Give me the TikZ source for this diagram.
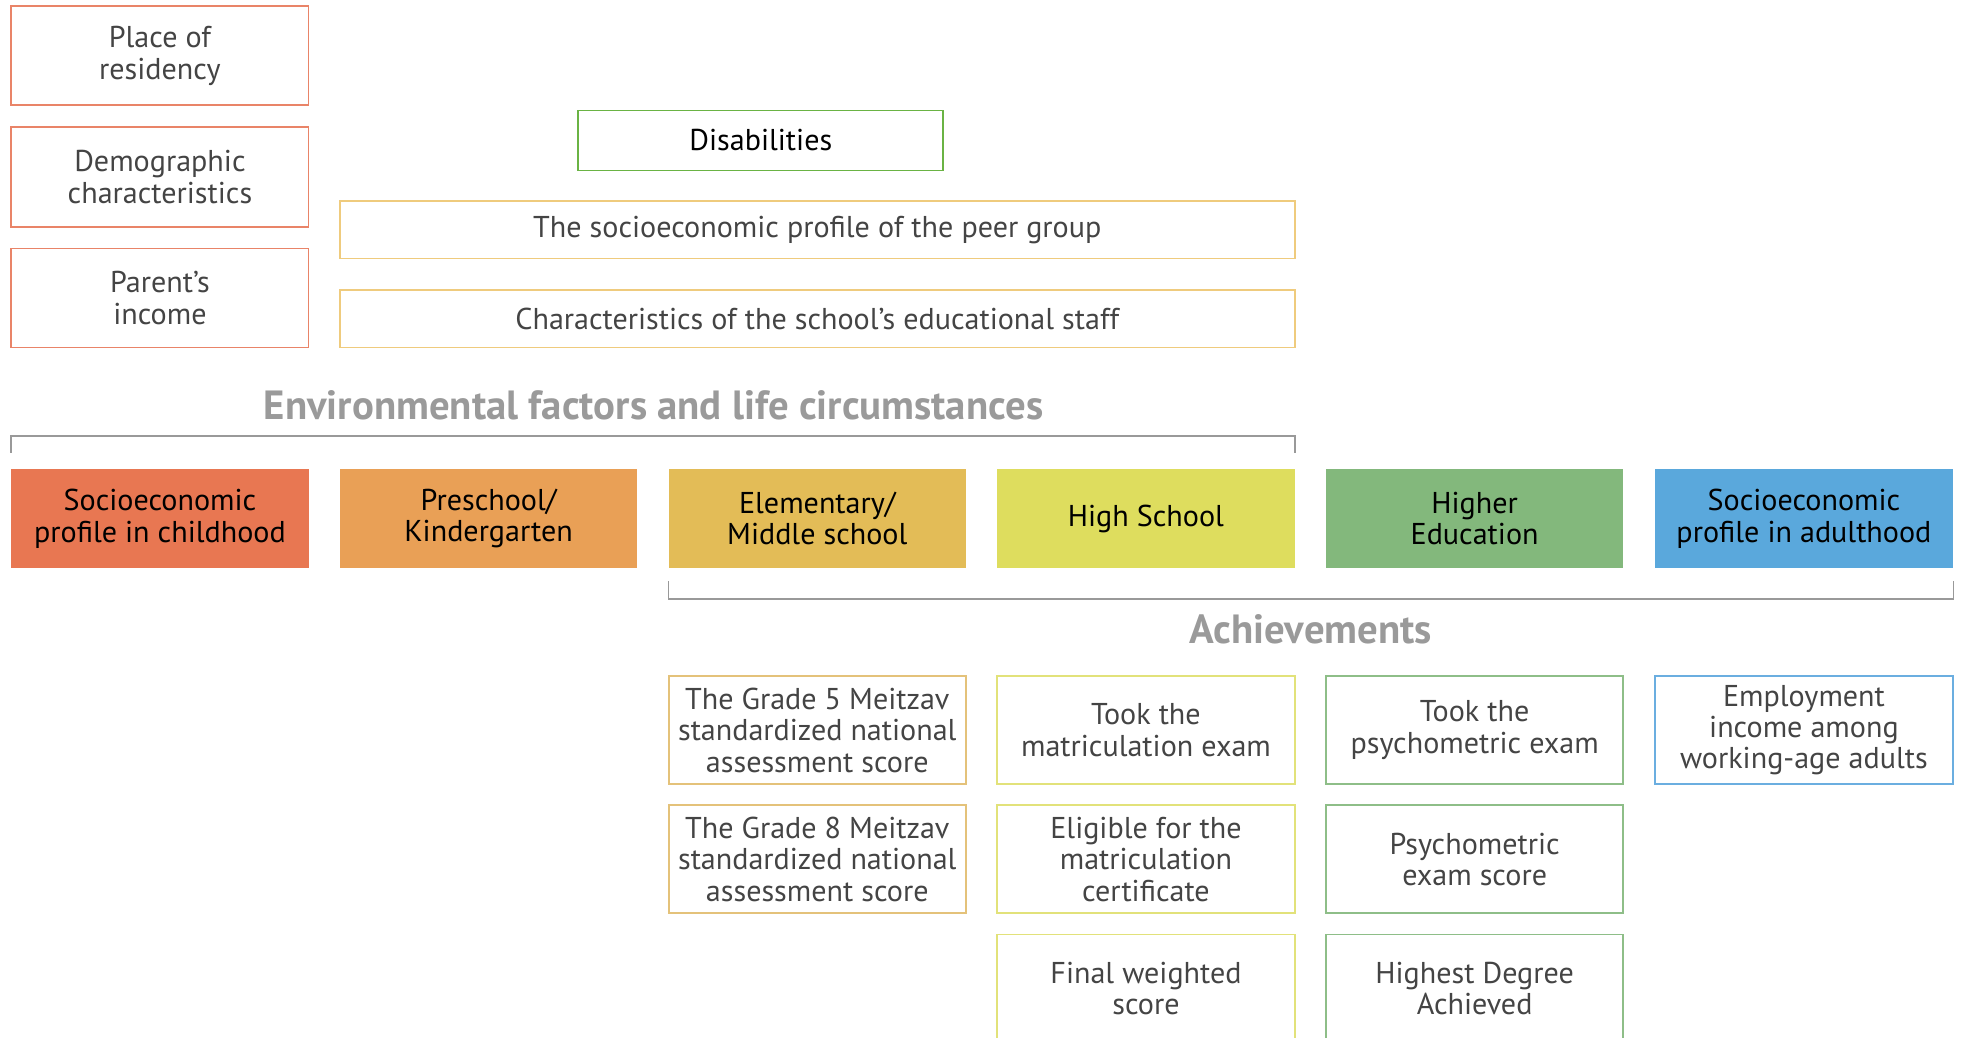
\documentclass[tikz,border=0pt]{standalone}
\usepackage{fontspec}
\setmainfont{PT Sans}
\definecolor{txtgray}{HTML}{444444}
\definecolor{ttlgray}{HTML}{9A9A9A}
\definecolor{brgray}{HTML}{999999}
\definecolor{leftred}{HTML}{E98468}
\definecolor{disgreen}{HTML}{6AB344}
\definecolor{schgold}{HTML}{EFCB7D}
\definecolor{st1}{HTML}{E87752}
\definecolor{st2}{HTML}{E9A056}
\definecolor{st3}{HTML}{E3BC57}
\definecolor{st4}{HTML}{DEDD5E}
\definecolor{st5}{HTML}{83B87C}
\definecolor{st6}{HTML}{5AA8DC}
\definecolor{ac1}{HTML}{E4C27A}
\definecolor{ac2}{HTML}{E2E27A}
\definecolor{ac3}{HTML}{8EBE88}
\definecolor{ac4}{HTML}{6BAEE0}
\begin{document}
\begin{tikzpicture}[x=1pt,y=-1pt,
  tbox/.style={draw, line width=1.4pt, align=center, inner sep=0pt, text=txtgray,
    font=\fontsize{24}{25}\selectfont},
  stagebox/.style={fill, align=center, inner sep=0pt, text=black,
    minimum width=237pt, minimum height=79pt, font=\fontsize{24}{25}\selectfont},
  achbox/.style={tbox, minimum width=237pt, minimum height=86pt},
  leftbox/.style={tbox, draw=leftred, minimum width=237pt, minimum height=79pt},
  bracketline/.style={draw=brgray, line width=1.4pt},
  ttl/.style={text=ttlgray, font=\fontsize{32.5}{34}\selectfont\bfseries, inner sep=0pt}]
\clip (0,0) rectangle (1568,827);
% left column
\node[leftbox] (res) at (127.5,44.5) {Place of\\residency};
\node[leftbox, minimum height=80pt] (demo) at (127.5,141) {Demographic\\characteristics};
\node[leftbox] (inc) at (127.5,237.5) {Parent's\\income};
% disabilities and school factors
\node[tbox, draw=disgreen, text=black, minimum width=291pt, minimum height=48pt] (dis) at (606.5,112) {Disabilities};
\node[tbox, draw=schgold, minimum width=761pt, minimum height=46pt] (peer) at (651.5,183) {The socioeconomic profile of the peer group};
\node[tbox, draw=schgold, minimum width=761pt, minimum height=46pt] (staff) at (651.5,254) {Characteristics of the school's educational staff};
% stages
\node[stagebox, fill=st1] (s1) at (127.5,413.5) {Socioeconomic\\profile in childhood};
\node[stagebox, fill=st2] (s2) at (389.5,413.5) {Preschool/\\Kindergarten};
\node[stagebox, fill=st3] (s3) at (651.5,413.5) {Elementary/\\Middle school};
\node[stagebox, fill=st4] (s4) at (913.5,413.5) {High School};
\node[stagebox, fill=st5] (s5) at (1175.5,413.5) {Higher\\Education};
\node[stagebox, fill=st6, minimum width=238pt] (s6) at (1438,413.5) {Socioeconomic\\profile in adulthood};
% titles
\node[ttl] (envt) at (521,323) {Environmental factors and life circumstances};
\node[ttl] (acht) at (1045,502) {Achievements};
% brackets
\draw[bracketline] ([yshift=13pt]s1.north west) -- ([yshift=26pt]s1.north west) -- ([yshift=26pt]s4.north east) -- ([yshift=13pt]s4.north east);
\draw[bracketline] ([yshift=-10pt]s3.south west) -- ([yshift=-24pt]s3.south west) -- ([yshift=-24pt]s6.south east) -- ([yshift=-10pt]s6.south east);
% achievements
\node[achbox, draw=ac1] (a1) at (651.5,582) {The Grade 5 Meitzav\\standardized national\\assessment score};
\node[achbox, draw=ac1] (a2) at (651.5,685) {The Grade 8 Meitzav\\standardized national\\assessment score};
\node[achbox, draw=ac2] (b1) at (913.5,582) {Took the\\matriculation exam};
\node[achbox, draw=ac2] (b2) at (913.5,685) {Eligible for the\\matriculation\\certificate};
\node[achbox, draw=ac2] (b3) at (913.5,788) {Final weighted\\score};
\node[achbox, draw=ac3] (c1) at (1175.5,582) {Took the\\psychometric exam};
\node[achbox, draw=ac3] (c2) at (1175.5,685) {Psychometric\\exam score};
\node[achbox, draw=ac3] (c3) at (1175.5,788) {Highest Degree\\Achieved};
\node[achbox, draw=ac4, minimum width=238pt] (d1) at (1438,582) {Employment\\income among\\working-age adults};
\end{tikzpicture}
\end{document}
